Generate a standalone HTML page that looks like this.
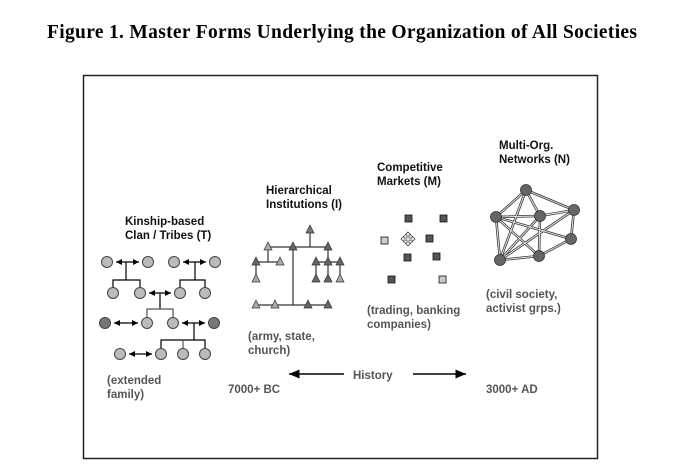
<!DOCTYPE html>
<html><head><meta charset="utf-8"><style>
body{margin:0;background:#fff;width:698px;height:471px;overflow:hidden}
</style></head><body>
<svg width="698" height="471" viewBox="0 0 698 471" xmlns="http://www.w3.org/2000/svg">
<defs>
<marker id="ah" markerWidth="6" markerHeight="6" refX="5" refY="3" orient="auto-start-reverse"><path d="M0,0.5 L5,3 L0,5.5z" fill="#000"/></marker>
<marker id="ah2" markerWidth="8" markerHeight="8" refX="7" refY="4" orient="auto"><path d="M0,1 L7,4 L0,7z" fill="#000"/></marker>
</defs>
<text x="47" y="38" font-family="Liberation Serif, serif" font-weight="bold" font-size="19.5" textLength="590" lengthAdjust="spacing">Figure 1.  Master Forms Underlying the Organization of All Societies</text>
<rect x="83.5" y="75.5" width="514" height="383" fill="none" stroke="#222" stroke-width="1.5"/>
<g font-family="Liberation Sans, sans-serif" font-weight="bold" font-size="11.5" fill="#111">
<text x="125" y="225">Kinship-based</text><text x="125" y="239">Clan / Tribes (T)</text>
<text x="266" y="194">Hierarchical</text><text x="266" y="208">Institutions (I)</text>
<text x="377" y="171">Competitive</text><text x="377" y="185">Markets (M)</text>
<text x="499" y="149">Multi-Org.</text><text x="499" y="163">Networks (N)</text>
</g>
<g font-family="Liberation Sans, sans-serif" font-weight="bold" font-size="11.5" fill="#555">
<text x="107" y="384">(extended</text><text x="107" y="398">family)</text>
<text x="248" y="340">(army, state,</text><text x="248" y="354">church)</text>
<text x="367" y="314">(trading, banking</text><text x="367" y="328">companies)</text>
<text x="486" y="298">(civil society,</text><text x="486" y="312">activist grps.)</text>
<text x="353" y="379">History</text>
<text x="228" y="393">7000+ BC</text>
<text x="486" y="393">3000+ AD</text>
</g>
<line x1="344" y1="374" x2="289" y2="374" stroke="#000" stroke-width="1.5" marker-end="url(#ah2)"/>
<line x1="413" y1="374" x2="466" y2="374" stroke="#000" stroke-width="1.5" marker-end="url(#ah2)"/>
<g stroke="#000" stroke-width="1.2" fill="none">
<line x1="126" y1="262" x2="126" y2="280"/><path d="M113 293V280H140V293"/>
<line x1="195" y1="262" x2="195" y2="280"/><path d="M180 293V280H205V293"/>
<line x1="160" y1="293" x2="160" y2="309"/><path d="M147 323V309H173V323" stroke="#555"/>
<line x1="194" y1="323" x2="194" y2="340"/><path d="M161 354V340H205V354"/><line x1="183" y1="340" x2="183" y2="354" stroke="#555"/>
</g>
<g stroke="#000" stroke-width="1.2" marker-start="url(#ah)" marker-end="url(#ah)">
<line x1="116" y1="262" x2="139" y2="262"/><line x1="183" y1="262" x2="206" y2="262"/>
<line x1="149" y1="293" x2="171" y2="293"/>
<line x1="114" y1="323" x2="138" y2="323"/><line x1="182" y1="323" x2="205" y2="323"/>
<line x1="129" y1="354" x2="152" y2="354"/>
</g>
<g stroke="#444" stroke-width="1" fill="#bbb">
<circle cx="107" cy="262" r="5.5"/><circle cx="148" cy="262" r="5.5"/><circle cx="174" cy="262" r="5.5"/><circle cx="215" cy="262" r="5.5"/>
<circle cx="113" cy="293" r="5.5"/><circle cx="140" cy="293" r="5.5"/><circle cx="180" cy="293" r="5.5"/><circle cx="205" cy="293" r="5.5"/>
<circle cx="105" cy="323" r="5.5" fill="#777"/><circle cx="147" cy="323" r="5.5"/><circle cx="173" cy="323" r="5.5"/><circle cx="214" cy="323" r="5.5" fill="#777"/>
<circle cx="120" cy="354" r="5.5"/><circle cx="161" cy="354" r="5.5"/><circle cx="183" cy="354" r="5.5"/><circle cx="205" cy="354" r="5.5"/>
</g>
<g stroke="#333" stroke-width="1.2" fill="none">
<path d="M310 230V247M268 247H328M293 247V305M256 305H328M268 247V262M256 262H280M256 262V279M328 247V262M316 262H340M316 262V279M328 262V279M340 262V279"/>
</g>
<g stroke="#333" stroke-width="0.7">
<path d="M310 225l-4 8h8z" fill="#777"/>
<path d="M268 242l-4 8h8z" fill="#aaa"/><path d="M293 242l-4 8h8z" fill="#666"/><path d="M328 242l-4 8h8z" fill="#666"/>
<path d="M256 257l-4 8h8z" fill="#666"/><path d="M280 257l-4 8h8z" fill="#aaa"/><path d="M256 274l-4 8h8z" fill="#aaa"/>
<path d="M316 257l-4 8h8z" fill="#666"/><path d="M328 257l-4 8h8z" fill="#666"/><path d="M340 257l-4 8h8z" fill="#666"/>
<path d="M316 274l-4 8h8z" fill="#666"/><path d="M328 274l-4 8h8z" fill="#666"/><path d="M340 274l-4 8h8z" fill="#aaa"/>
<path d="M256 300l-4 8h8z" fill="#aaa"/><path d="M275 300l-4 8h8z" fill="#aaa"/><path d="M308 300l-4 8h8z" fill="#666"/><path d="M328 300l-4 8h8z" fill="#666"/>
</g>
<g stroke="#111" stroke-width="0.8">
<g fill="#555"><rect x="405" y="215" width="7" height="7"/><rect x="440" y="215" width="7" height="7"/><rect x="426" y="235" width="7" height="7"/><rect x="404" y="254" width="7" height="7"/><rect x="433" y="253" width="7" height="7"/><rect x="388" y="276" width="7" height="7"/></g>
<g fill="#ccc"><rect x="381" y="237" width="7" height="7"/><rect x="439" y="276" width="7" height="7"/></g>
</g>
<g stroke="#444" stroke-width="0.8" fill="#fff">
<path d="M408 232l3 3h-2v3h3v-2l3 3-3 3v-2h-3v3h2l-3 3-3-3h2v-3h-3v2l-3-3 3-3v2h3v-3h-2z"/>
</g>
<g stroke="#444" stroke-width="2.6" fill="none">
<path d="M526 190L496 217M526 190L540 216M526 190L574 210M526 190L500 260M496 217L571 239M496 217L539 256M496 217L500 260M540 216L574 210M540 216L539 256M540 216L500 260M574 210L571 239M574 210L500 260M571 239L539 256M500 260L539 256M496 217L540 216"/>
</g>
<g stroke="#eee" stroke-width="0.9" fill="none">
<path d="M526 190L496 217M526 190L540 216M526 190L574 210M526 190L500 260M496 217L571 239M496 217L539 256M496 217L500 260M540 216L574 210M540 216L539 256M540 216L500 260M574 210L571 239M574 210L500 260M571 239L539 256M500 260L539 256M496 217L540 216"/>
</g>
<g fill="#666" stroke="#333" stroke-width="0.8">
<circle cx="526" cy="190" r="5.5"/><circle cx="496" cy="217" r="5.5"/><circle cx="540" cy="216" r="5.5"/><circle cx="574" cy="210" r="5.5"/><circle cx="571" cy="239" r="5.5"/><circle cx="500" cy="260" r="5.5"/><circle cx="539" cy="256" r="5.5"/>
</g>
</svg>
</body></html>
